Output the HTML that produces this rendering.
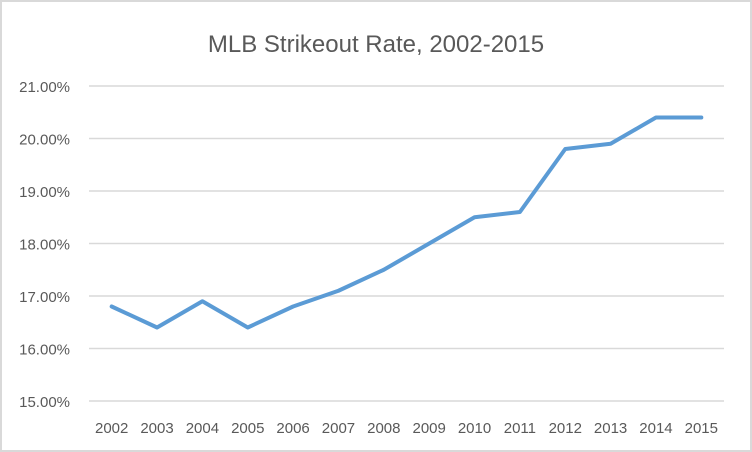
<!DOCTYPE html>
<html><head><meta charset="utf-8"><style>
body{margin:0;background:#fff;}
svg{display:block;font-family:"Liberation Sans",sans-serif;}
</style></head><body>
<svg width="752" height="452">
<rect x="1" y="1" width="750" height="450" fill="#fff" stroke="#d9d9d9" stroke-width="2"/>
<text x="376" y="52" text-anchor="middle" font-size="24" fill="#595959">MLB Strikeout Rate, 2002-2015</text>
<g id="grid"></g><g id="ylab"></g><g id="xlab"></g><g id="series"></g>
</svg>
<script>
const years=["2002","2003","2004","2005","2006","2007","2008","2009","2010","2011","2012","2013","2014","2015"];
const rates=[16.8,16.4,16.9,16.4,16.8,17.1,17.5,18.0,18.5,18.6,19.8,19.9,20.4,20.4];
const yTicks=[15,16,17,18,19,20,21];
const NS="http://www.w3.org/2000/svg";
const x0=89,x1=724,yMin=15,yMax=21,py0=401,py1=86;
const band=(x1-x0)/years.length;
const xs=i=>x0+band*(i+0.5);
const ys=v=>py0-(v-yMin)/(yMax-yMin)*(py0-py1);
function mk(t,a,p){const e=document.createElementNS(NS,t);for(const k in a)e.setAttribute(k,a[k]);p.appendChild(e);return e;}
const g=document.getElementById('grid'),yl=document.getElementById('ylab'),xl=document.getElementById('xlab'),s=document.getElementById('series');
yTicks.forEach(v=>{
 const l=mk('line',{x1:x0,x2:x1,y1:ys(v),y2:ys(v),stroke:'#d9d9d9','stroke-width':1.5},g);
 
 
 const t=mk('text',{x:70,y:ys(v)+6,'text-anchor':'end','font-size':15,fill:'#595959'},yl);
 t.textContent=v.toFixed(2)+'%';
 
 
});
years.forEach((y,i)=>{
 const t=mk('text',{x:xs(i),y:433,'text-anchor':'middle','font-size':15,fill:'#595959'},xl);
 t.textContent=y;
 
 
});
const p=mk('polyline',{points:rates.map((v,i)=>xs(i)+','+ys(v)).join(' '),fill:'none',stroke:'#5b9bd5','stroke-width':4,'stroke-linejoin':'round','stroke-linecap':'round'},s);


</script>
</body></html>
